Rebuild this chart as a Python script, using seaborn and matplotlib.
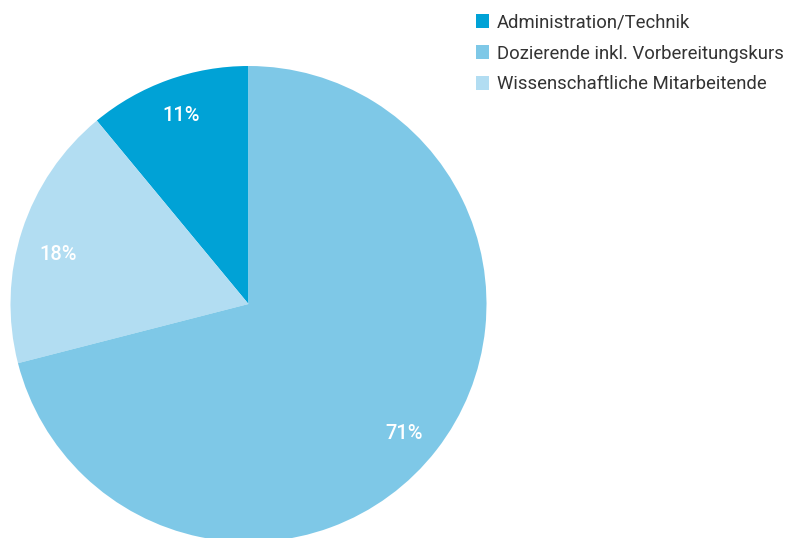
import matplotlib
matplotlib.use("Agg")
import matplotlib.pyplot as plt
import seaborn as sns
from matplotlib.patches import Patch

# ====================
# DATA
# ====================
labels = ["Administration/Technik", "Wissenschaftliche Mitarbeitende", "Dozierende inkl. Vorbereitungskurs"]
shares = [11, 18, 71]
colors = ["#00A2D6", "#B2DDF2", "#7EC8E7"]
legend_order = [0, 2, 1]

sns.set_theme(style="white")
plt.rcParams["font.family"] = ["Roboto", "DejaVu Sans"]

W, H = 790, 538
fig = plt.figure(figsize=(W / 100, H / 100), dpi=100)

# pie box in pixels: x 10..487, y 66..542 (clipped at bottom)
ax = fig.add_axes([10 / W, (H - 542) / H, 477 / W, 476 / H])
wedges, texts, autotexts = ax.pie(
    shares,
    colors=colors,
    startangle=90,
    counterclock=True,
    autopct="%d%%",
    pctdistance=0.84,
    radius=1,
    wedgeprops=dict(linewidth=0),
    textprops=dict(color="white", fontsize=14.5, fontweight="medium"),
)
# small nudges so labels sit where the original has them
x, y = autotexts[1].get_position()
autotexts[1].set_position((x, y - 0.05))
x, y = autotexts[2].get_position()
autotexts[2].set_position((x - 0.01, y - 0.03))
ax.set_xlim(-1, 1)
ax.set_ylim(-1, 1)
ax.set_aspect("equal")
ax.axis("off")

handles = [Patch(facecolor=colors[i], edgecolor="none", label=labels[i]) for i in legend_order]
fig.legend(
    handles=handles,
    loc="upper left",
    bbox_to_anchor=(459 / W, 1 + 3 / H),
    frameon=False,
    fontsize=13.3,
    handlelength=0.75,
    handleheight=0.75,
    handletextpad=0.4,
    labelspacing=0.7,
    labelcolor="#333333",
)

fig.savefig("out.png", dpi=100)
